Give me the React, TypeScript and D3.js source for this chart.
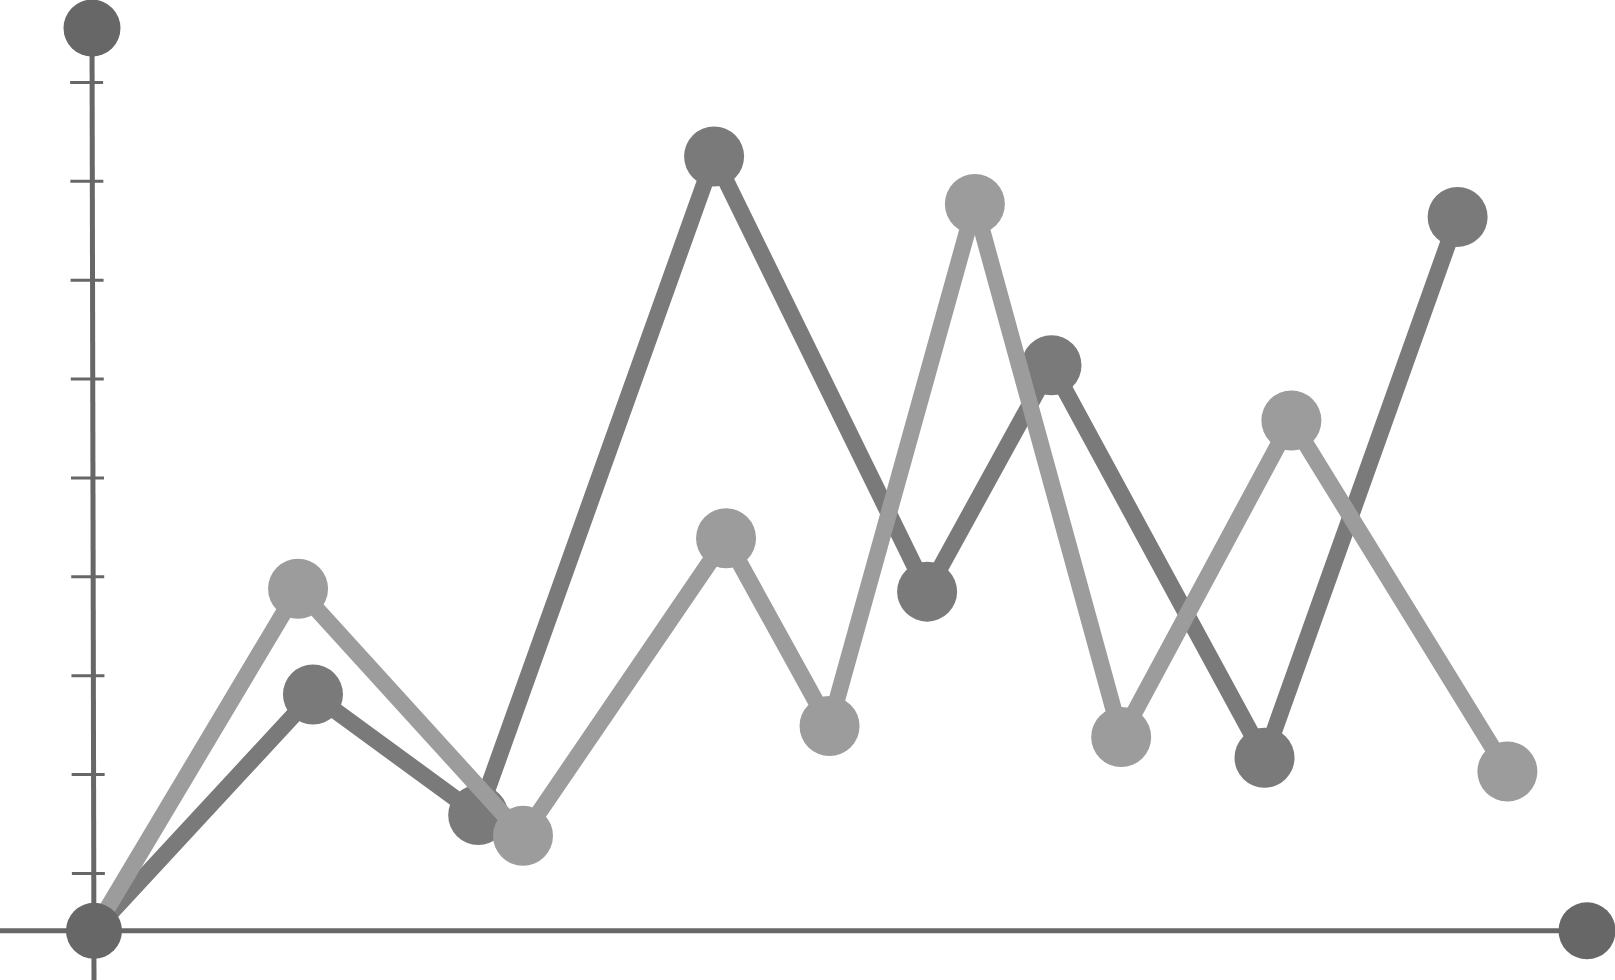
import React from 'react';
import * as d3 from 'd3';

const W = 1615;
const H = 980;

// Series values (x in axis units, y in axis units)
const darkX = [0, 2.2, 3.86, 6.23, 8.37, 9.62, 11.76, 13.7];
const darkY = [0.42, 2.81, 1.59, 8.25, 3.85, 6.14, 2.17, 7.64];
const lightX = [0, 2.05, 4.31, 6.35, 7.39, 8.85, 10.32, 12.03, 14.2];
const lightY = [0.42, 3.88, 1.38, 4.39, 2.49, 7.77, 2.38, 5.58, 2.03];
const yTicks = [1, 2, 3, 4, 5, 6, 7, 8, 9];
const originValue = { x: 0, y: 0.42 };
const xAxisEnd = 15;
const yAxisEnd = 9.55;

const AXIS_COLOR = '#676767';
const DARK_COLOR = '#7a7a7a';
const LIGHT_COLOR = '#9c9c9c';

export default function App() {
  const xScale = d3.scaleLinear().domain([0, 15]).range([94, 1587]);
  const yScale = d3.scaleLinear().domain([0, 10]).range([972.3, -16.45]);

  const dark = darkX.map((x, i) => ({ x, y: darkY[i] }));
  const light = lightX.map((x, i) => ({ x, y: lightY[i] }));

  const line = d3
    .line<{ x: number; y: number }>()
    .x((d) => xScale(d.x))
    .y((d) => yScale(d.y));

  const ox = xScale(originValue.x);
  const oy = yScale(originValue.y);
  const lean = 2;

  return (
    <svg
      width={W}
      height={H}
      style={{ position: 'absolute', left: 0, top: 0, background: '#fff' }}
    >
      {/* x axis */}
      <line x1={0} y1={oy} x2={xScale(xAxisEnd)} y2={oy} stroke={AXIS_COLOR} strokeWidth={5} />
      {/* y axis */}
      <line x1={ox - lean} y1={yScale(yAxisEnd)} x2={ox} y2={H} stroke={AXIS_COLOR} strokeWidth={5} />
      {yTicks.map((t) => {
        const ty = yScale(t);
        const shift = -lean * (oy - ty) / (oy - yScale(yAxisEnd));
        return (
          <line
            key={t}
            x1={ox + shift - 22}
            x2={ox + shift + 11}
            y1={ty}
            y2={ty}
            stroke={AXIS_COLOR}
            strokeWidth={3}
          />
        );
      })}
      <circle cx={ox - lean} cy={yScale(yAxisEnd)} r={28.5} fill={AXIS_COLOR} />
      <circle cx={xScale(xAxisEnd)} cy={oy} r={28.5} fill={AXIS_COLOR} />

      {/* dark series */}
      <path d={line(dark) || ''} fill="none" stroke={DARK_COLOR} strokeWidth={16.5} strokeLinejoin="round" />
      {dark.slice(1).map((d, i) => (
        <circle key={'d' + i} cx={xScale(d.x)} cy={yScale(d.y)} r={30} fill={DARK_COLOR} />
      ))}

      {/* light series */}
      <path d={line(light) || ''} fill="none" stroke={LIGHT_COLOR} strokeWidth={16.5} strokeLinejoin="round" />
      {light.slice(1).map((d, i) => (
        <circle key={'l' + i} cx={xScale(d.x)} cy={yScale(d.y)} r={30} fill={LIGHT_COLOR} />
      ))}

      {/* origin */}
      <circle cx={ox} cy={oy} r={28} fill={AXIS_COLOR} />
    </svg>
  );
}
